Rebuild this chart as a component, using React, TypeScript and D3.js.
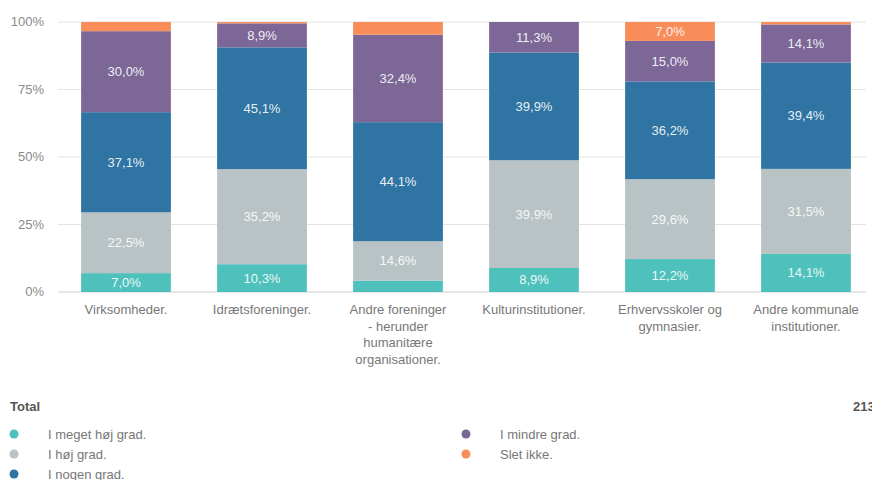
import React from "react";
import * as d3 from "d3";

// categories on the x axis (each label split into lines)
const categories = [
  ["Virksomheder."],
  ["Idrætsforeninger."],
  ["Andre foreninger", "- herunder", "humanitære", "organisationer."],
  ["Kulturinstitutioner."],
  ["Erhvervsskoler og", "gymnasier."],
  ["Andre kommunale", "institutioner."],
];

const seriesNames = [
  "I meget høj grad.",
  "I høj grad.",
  "I nogen grad.",
  "I mindre grad.",
  "Slet ikke.",
];
const seriesColors = ["#4fc1bd", "#b9c3c5", "#2f74a3", "#7c6797", "#f88d5a"];

// percentages per category, bottom to top
const megetHoj = [7.0, 10.3, 4.2, 8.9, 12.2, 14.1];
const hoj = [22.5, 35.2, 14.6, 39.9, 29.6, 31.5];
const nogen = [37.1, 45.1, 44.1, 39.9, 36.2, 39.4];
const mindre = [30.0, 8.9, 32.4, 11.3, 15.0, 14.1];
const sletIkke = [3.4, 0.5, 4.7, 0.0, 7.0, 0.9];

const yTicks = [0, 25, 50, 75, 100];
const totalN = "213";

const fmt = (v: number) => v.toFixed(1).replace(".", ",") + "%";

export default function App() {
  const width = 872;
  const height = 480;
  const font = "'Liberation Sans', Arial, sans-serif";

  const allSeries = [megetHoj, hoj, nogen, mindre, sletIkke];
  const rows = categories.map((c, i) => {
    const r: any = { key: i };
    seriesNames.forEach((s, j) => (r[s] = allSeries[j][i]));
    return r;
  });
  const stacked = d3.stack<any>().keys(seriesNames)(rows);

  const x = d3
    .scaleBand<number>()
    .domain(categories.map((_, i) => i))
    .range([58, 874])
    .paddingInner(0.34)
    .paddingOuter(0.17);
  const y = d3.scaleLinear().domain([0, 100]).range([292, 22]);

  const legendPos = [
    [14, 434],
    [14, 454],
    [14, 474],
    [466, 434],
    [466, 454],
  ];

  return (
    <svg
      width={width}
      height={height}
      style={{ position: "absolute", left: 0, top: 0, fontFamily: font }}
    >
      {yTicks.map((t) => (
        <g key={t}>
          <line
            x1={58}
            x2={866}
            y1={y(t)}
            y2={y(t)}
            stroke={t === 0 ? "#cfcfcf" : "#e3e3e3"}
            strokeWidth={1}
          />
          <text
            x={44}
            y={y(t) + 4}
            textAnchor="end"
            fontSize={13}
            fill="#8a8a8a"
          >
            {t}%
          </text>
        </g>
      ))}

      {stacked.map((layer, j) => (
        <g key={layer.key} fill={seriesColors[j]}>
          {layer.map((d, i) => {
            const h = y(d[0]) - y(d[1]);
            if (h <= 0) return null;
            return (
              <g key={i}>
                <rect
                  x={x(i)}
                  y={y(d[1])}
                  width={x.bandwidth()}
                  height={h}
                />
                {d[1] - d[0] >= 5 && (
                  <text
                    x={(x(i) as number) + x.bandwidth() / 2}
                    y={(y(d[0]) + y(d[1])) / 2 + 4.5}
                    textAnchor="middle"
                    fontSize={13}
                    fill="#ffffff"
                    fillOpacity={0.9}
                  >
                    {fmt(d[1] - d[0])}
                  </text>
                )}
              </g>
            );
          })}
        </g>
      ))}

      {categories.map((lines, i) => (
        <text
          key={i}
          x={(x(i) as number) + x.bandwidth() / 2}
          textAnchor="middle"
          fontSize={13}
          fill="#777"
        >
          {lines.map((l, k) => (
            <tspan key={k} x={(x(i) as number) + x.bandwidth() / 2} y={314 + k * 16.5}>
              {l}
            </tspan>
          ))}
        </text>
      ))}

      <text x={10} y={411} fontSize={13} fontWeight="bold" fill="#555">
        Total
      </text>
      <text x={853} y={411} fontSize={13} fontWeight="bold" fill="#555">
        {totalN}
      </text>

      {seriesNames.map((s, j) => (
        <g key={s}>
          <circle
            cx={legendPos[j][0]}
            cy={legendPos[j][1]}
            r={4.5}
            fill={seriesColors[j]}
          />
          <text
            x={legendPos[j][0] + 34}
            y={legendPos[j][1] + 5}
            fontSize={13}
            fill="#777"
          >
            {s}
          </text>
        </g>
      ))}
    </svg>
  );
}
